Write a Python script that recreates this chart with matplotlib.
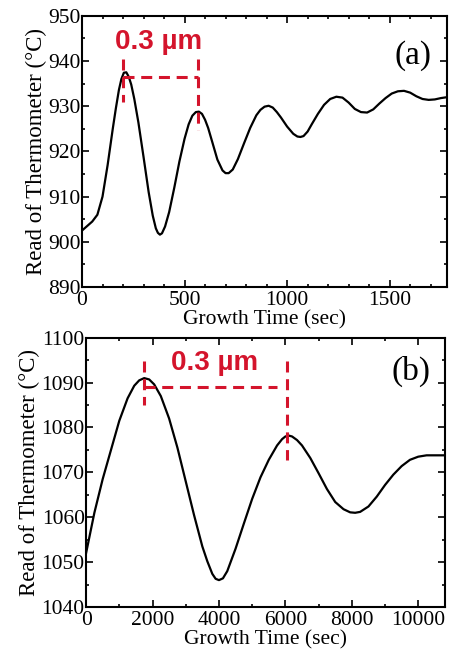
import numpy as np
import matplotlib.pyplot as plt
from matplotlib.ticker import MultipleLocator

# (a) thermometer reading vs growth time
time_a = [0, 25, 50, 75, 100, 125, 150, 165, 180, 192, 204, 216, 228, 240, 255, 275,
          300, 325, 345, 360, 370, 380, 390, 405, 425, 450, 475, 500, 520, 538, 555,
          570, 585, 600, 615, 635, 660, 685, 700, 715, 735, 760, 790, 820, 850, 870,
          890, 910, 930, 950, 970, 1000, 1030, 1050, 1065, 1080, 1100, 1120, 1150,
          1180, 1210, 1240, 1270, 1300, 1330, 1360, 1390, 1420, 1450, 1480, 1510,
          1540, 1570, 1600, 1630, 1660, 1690, 1720, 1750, 1780]
temp_a = [902.5, 903.5, 904.5, 906, 910, 917, 925, 929.5, 933.6, 936, 937.4, 937.5,
          936.5, 934.8, 931.6, 926.4, 918.8, 911, 905.8, 903, 902, 901.6, 901.9, 903.4,
          906.6, 912, 917.8, 922.8, 926, 927.9, 928.7, 928.8, 928.3, 927, 925.2,
          922.1, 918.2, 915.8, 915.2, 915.2, 916, 918.3, 921.8, 925.2, 928, 929.2,
          929.9, 930.1, 929.7, 928.7, 927.5, 925.5, 923.9, 923.3, 923.2, 923.4, 924.4,
          926, 928.3, 930.3, 931.6, 932.1, 931.9, 930.8, 929.4, 928.7, 928.6, 929.3,
          930.6, 931.8, 932.8, 933.3, 933.4, 933, 932.2, 931.6, 931.4, 931.5, 931.8, 932]

# (b)
time_b = [0, 250, 500, 750, 1000, 1250, 1450, 1600, 1750, 1900, 2050, 2250, 2500,
          2750, 3000, 3250, 3500, 3650, 3800, 3900, 4000, 4120, 4250, 4500, 4750,
          5000, 5250, 5500, 5750, 5900, 6000, 6100, 6200, 6350, 6500, 6750, 7000,
          7250, 7500, 7750, 7950, 8100, 8250, 8500, 8750, 9000, 9250, 9500, 9750,
          10000, 10250, 10500, 10800]
temp_b = [1052, 1061, 1068.5, 1075, 1081.5, 1086.5, 1089.3, 1090.5, 1091, 1090.7,
          1089.6, 1087, 1082, 1075.5, 1068, 1060.5, 1053.5, 1050.2, 1047.4, 1046.3,
          1046, 1046.4, 1048, 1053, 1058.6, 1064.1, 1068.9, 1072.8, 1076, 1077.4,
          1078, 1078.2, 1078, 1077.2, 1076, 1073.2, 1069.8, 1066.3, 1063.4, 1061.8,
          1061.1, 1061, 1061.2, 1062.4, 1064.6, 1067.2, 1069.5, 1071.4, 1072.8,
          1073.5, 1073.8, 1073.8, 1073.8]

# 0.3 um bracket: left peak x, right peak x, bar level, top, bottoms
bracket_a = dict(x1=201, x2=566, ybar=936.4, top=940.5, bot1=931, bot2=924.7)
bracket_b = dict(x1=1745, x2=6058, ybar=1089.1, top=1094.7, bot1=1085.1, bot2=1072.8,
                 xbar_end=5737)
label_a = (375, 942.6)
label_b = (3881, 1092.7)

RED = '#d4142c'
plt.rcParams['font.family'] = ['Liberation Serif', 'DejaVu Serif']

fig = plt.figure(figsize=(4.53, 6.57), dpi=100)
ax1 = fig.add_axes([0.181, 0.563, 0.806, 0.413])
ax2 = fig.add_axes([0.190, 0.076, 0.792, 0.410])


def style(ax, xlim, ylim, xmaj, xmin, ymaj, ymin):
    ax.set_xlim(*xlim)
    ax.set_ylim(*ylim)
    ax.xaxis.set_major_locator(MultipleLocator(xmaj))
    ax.xaxis.set_minor_locator(MultipleLocator(xmin))
    ax.yaxis.set_major_locator(MultipleLocator(ymaj))
    ax.yaxis.set_minor_locator(MultipleLocator(ymin))
    ax.tick_params(which='both', direction='in', top=True, right=True,
                   labelsize=15.5, width=1.2)
    ax.tick_params(axis='x', pad=3)
    ax.tick_params(axis='y', pad=1)
    ax.tick_params(which='major', length=5)
    ax.tick_params(which='minor', length=2.5)
    for s in ax.spines.values():
        s.set_linewidth(1.5)
    ax.set_xlabel('Growth Time (sec)', fontsize=15.5, labelpad=0)
    ax.set_ylabel('Read of Thermometer (°C)', fontsize=16.5, labelpad=1)


def bracket(ax, b, xbar_end=None):
    kw = dict(color=RED, lw=2.2, dashes=(3.6, 2.2), solid_capstyle='butt')
    ax.plot([b['x1'], b['x1']], [b['top'], b['bot1']], **kw)
    ax.plot([b['x1'], xbar_end if xbar_end else b['x2']], [b['ybar'], b['ybar']], **kw)
    ax.plot([b['x2'], b['x2']], [b['top'], b['bot2']], **kw)


ax1.plot(time_a, temp_a, color='black', lw=1.6)
style(ax1, (0, 1780), (890, 950), 500, 100, 10, 5)
bracket(ax1, bracket_a)
ax1.text(*label_a, '0.3 µm', color=RED, fontsize=20, fontweight='bold',
         family='Liberation Sans', ha='center', va='baseline')
ax1.text(1612, 941.3, '(a)', fontsize=24, ha='center', va='center')

ax2.plot(time_b, temp_b, color='black', lw=1.6)
style(ax2, (0, 10800), (1040, 1100), 2000, 1000, 10, 5)
bracket(ax2, bracket_b, bracket_b['xbar_end'])
ax2.text(*label_b, '0.3 µm', color=RED, fontsize=20, fontweight='bold',
         family='Liberation Sans', ha='center', va='baseline')
ax2.text(9777, 1092.5, '(b)', fontsize=24, ha='center', va='center')

fig.savefig('out.png', dpi=100)
